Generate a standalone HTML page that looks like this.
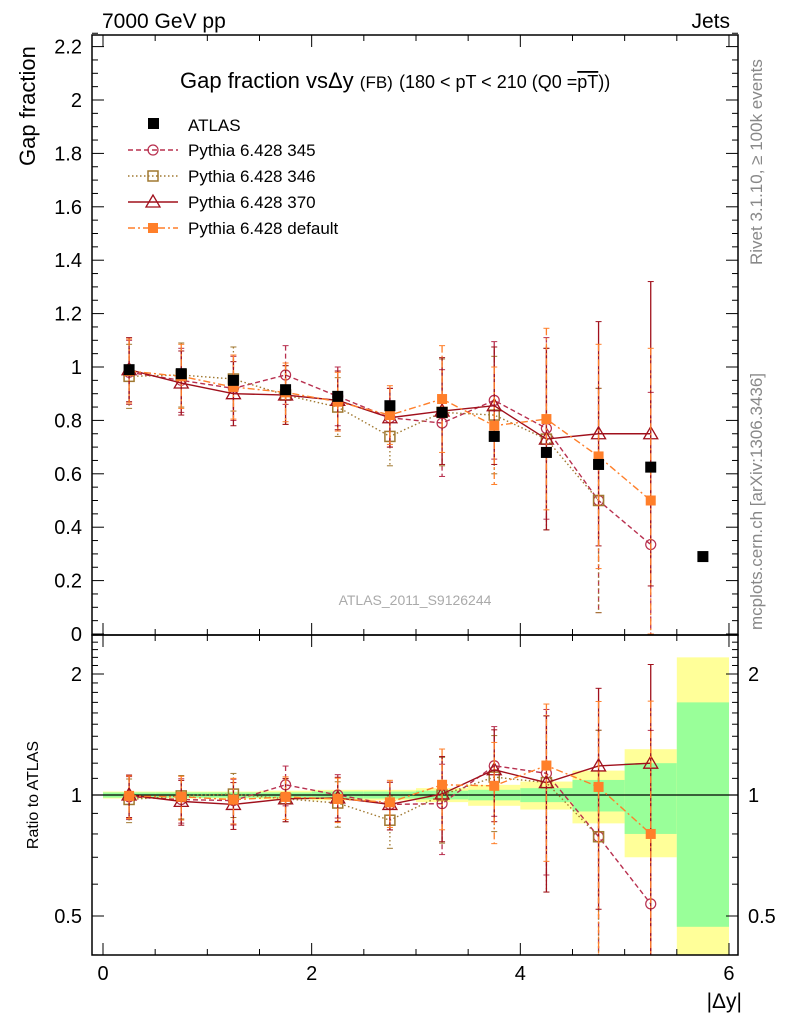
<!DOCTYPE html><html><head><meta charset="utf-8"><style>body{margin:0;background:#fff}svg{font-family:"Liberation Sans",sans-serif}</style></head><body>
<svg id="s" width="786" height="1024" xmlns="http://www.w3.org/2000/svg"></svg>
<script>
const S=document.getElementById('s');let h='';
const X=v=>103+v*104.33, Y=v=>634-v*267, R=v=>795-Math.log2(v)*121;
const xs=[0.25,0.75,1.25,1.75,2.25,2.75,3.25,3.75,4.25,4.75,5.25,5.75];
const at=[0.99,0.975,0.95,0.915,0.89,0.855,0.83,0.74,0.68,0.635,0.625,0.29];
const g=[.015,.015,.015,.015,.02,.02,.025,.03,.04,.09,.2,null],yl=[.02,.02,.02,.025,.03,.03,.04,.06,.08,.15,.3,null];
for(let i=0;i<11;i++){let x0=X(xs[i]-.25),w=52.2;
h+=`<rect x="${x0}" y="${R(1+yl[i])}" width="${w}" height="${R(1-yl[i])-R(1+yl[i])}" fill="#ffff99"/>`;
h+=`<rect x="${x0}" y="${R(1+g[i])}" width="${w}" height="${R(1-g[i])-R(1+g[i])}" fill="#99ff99"/>`;}
h+=`<rect x="${X(5.5)}" y="${R(2.2)}" width="52.2" height="${955-R(2.2)}" fill="#ffff99"/><rect x="${X(5.5)}" y="${R(1.7)}" width="52.2" height="${R(0.47)-R(1.7)}" fill="#99ff99"/>`;
h+=`<line x1="92" x2="738" y1="795" y2="795" stroke="#000" stroke-width="1.3"/>`;
const er=[.12,.12,.12,.11,.11,.11,.2,.22,.34,.42,.57];
const ser=[
{c:'#b8304f',d:'5,3',m:'o',y:[.98,.95,.92,.97,.89,.81,.79,.875,.77,.5,.335]},
{c:'#a07830',d:'1.5,2.5',m:'s',y:[.965,.97,.955,.895,.85,.74,.83,.82,.73,.5,null]},
{c:'#a0101c',d:'',m:'t',y:[.99,.94,.90,.895,.875,.81,.835,.855,.73,.75,.75]},
{c:'#ff7f2a',d:'7,3,2,3',m:'f',y:[.985,.965,.925,.905,.87,.82,.88,.78,.805,.665,.5]}];
function mk(m,c,x,y){if(m=='o')return `<circle cx="${x}" cy="${y}" r="5" fill="none" stroke="${c}" stroke-width="1.2"/>`;
if(m=='s')return `<rect x="${x-5}" y="${y-5}" width="10" height="10" fill="none" stroke="${c}" stroke-width="1.5"/>`;
if(m=='t')return `<polygon points="${x},${y-7} ${x-7},${y+5} ${x+7},${y+5}" fill="none" stroke="${c}" stroke-width="1.3"/>`;
return `<rect x="${x-5}" y="${y-5}" width="10" height="10" fill="${c}"/>`;}
function draw(F,ratio,clipT,clipB){
for(const s of ser){let p=[];s.y.forEach((v,i)=>{if(v==null)return;let vv=ratio?v/at[i]:v;p.push([X(xs[i]),F(vv)]);
let lo=ratio?(v-er[i])/at[i]:v-er[i],hi=ratio?(v+er[i])/at[i]:v+er[i];
let y1=Math.max(clipT,F(hi)),y2=lo<=0.01?clipB:Math.min(clipB,F(lo));
h+=`<line x1="${X(xs[i])}" x2="${X(xs[i])}" y1="${y1}" y2="${y2}" stroke="${s.c}" stroke-width="1.3" stroke-dasharray="${s.d}"/><line x1="${X(xs[i])-3}" x2="${X(xs[i])+3}" y1="${y1}" y2="${y1}" stroke="${s.c}"/><line x1="${X(xs[i])-3}" x2="${X(xs[i])+3}" y1="${y2}" y2="${y2}" stroke="${s.c}"/>`;});
h+=`<polyline points="${p.map(q=>q.join(',')).join(' ')}" fill="none" stroke="${s.c}" stroke-width="1.4" stroke-dasharray="${s.d}"/>`;
p.forEach(q=>h+=mk(s.m,s.c,q[0],q[1]));}}
draw(Y,false,36,634);draw(R,true,636,955);
at.forEach((v,i)=>h+=`<rect x="${X(xs[i])-5.5}" y="${Y(v)-5.5}" width="11" height="11" fill="#000"/>`);
h+=`<rect x="92" y="35" width="646" height="600" fill="none" stroke="#000" stroke-width="1.5"/><rect x="92" y="635" width="646" height="320" fill="none" stroke="#000" stroke-width="1.5"/>`;
for(let v=0;v<=2.26;v+=0.05){let y=Y(v),L=(Math.round(v*20)%4==0)?12:6;h+=`<line x1="92" x2="${92+L}" y1="${y}" y2="${y}" stroke="#000"/><line x1="${738-L}" x2="738" y1="${y}" y2="${y}" stroke="#000"/>`;}
[0,0.2,0.4,0.6,0.8,1,1.2,1.4,1.6,1.8,2,2.2].forEach(v=>h+=`<text x="82" y="${Y(v)+7}" font-size="20" text-anchor="end">${+v.toFixed(1)}</text>`);
for(let v=0;v<=6.01;v+=0.5){let L=(Math.round(v*2)%4==0)?12:6;[[35,1],[635,-1],[635,1],[955,-1]].forEach(([b,d])=>h+=`<line x1="${X(v)}" x2="${X(v)}" y1="${b}" y2="${b+d*L}" stroke="#000"/>`);}
[0,2,4,6].forEach(v=>h+=`<text x="${X(v)}" y="980" font-size="20" text-anchor="middle">${v}</text>`);
for(let v=0.4;v<=2.51;v+=0.1){let y=R(v),L=[0.5,1,2].some(q=>Math.abs(q-v)<1e-6)?12:6;h+=`<line x1="92" x2="${92+L}" y1="${y}" y2="${y}" stroke="#000"/><line x1="${738-L}" x2="738" y1="${y}" y2="${y}" stroke="#000"/>`;}
[[0.5,'0.5'],[1,'1'],[2,'2']].forEach(([v,t])=>{h+=`<text x="82" y="${R(v)+7}" font-size="20" text-anchor="end">${t}</text><text x="748" y="${R(v)+7}" font-size="20">${t}</text>`;});
h+=`<text x="102" y="28" font-size="21">7000 GeV pp</text><text x="730" y="28" font-size="21" text-anchor="end">Jets</text>`;
h+=`<text x="180" y="88" font-size="22">Gap fraction vs<tspan>Δy</tspan> <tspan font-size="17">(FB)</tspan> <tspan font-size="18">(180 &lt; pT &lt; 210 (Q0 =</tspan><tspan font-size="18" text-decoration="overline">pT</tspan><tspan font-size="18">))</tspan></text>`;
h+=`<text transform="translate(35,166) rotate(-90)" font-size="22">Gap fraction</text>`;
h+=`<text transform="translate(38,795) rotate(-90)" font-size="16" text-anchor="middle">Ratio to ATLAS</text>`;
h+=`<text x="742" y="1008" font-size="21" text-anchor="end">|Δy|</text>`;
h+=`<text x="415" y="605" font-size="14" fill="#aaa" text-anchor="middle">ATLAS_2011_S9126244</text>`;
h+=`<text transform="translate(762,265) rotate(-90)" font-size="17" fill="#888">Rivet 3.1.10, ≥ 100k events</text>`;
h+=`<text transform="translate(762,630) rotate(-90)" font-size="17" fill="#888">mcplots.cern.ch [arXiv:1306.3436]</text>`;
h+=`<rect x="148" y="118" width="11" height="11"/><text x="188" y="131" font-size="17">ATLAS</text>`;
const ln=['Pythia 6.428 345','Pythia 6.428 346','Pythia 6.428 370','Pythia 6.428 default'];
ser.forEach((s,i)=>{let y=150+i*26;h+=`<line x1="128" x2="178" y1="${y}" y2="${y}" stroke="${s.c}" stroke-width="1.4" stroke-dasharray="${s.d}"/>`+mk(s.m,s.c,153,y)+`<text x="188" y="${y+6}" font-size="17">${ln[i]}</text>`;});
S.innerHTML=h;
</script></body></html>
